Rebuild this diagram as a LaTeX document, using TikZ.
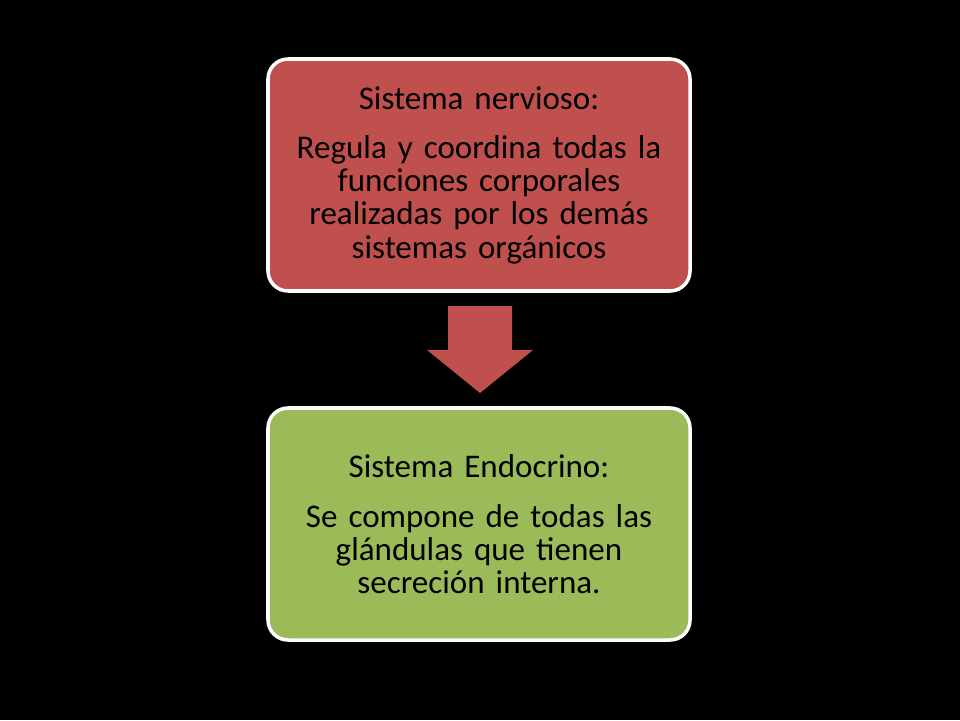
\documentclass[tikz,border=0pt]{standalone}
\usepackage{fontspec}
\setmainfont{Carlito}
\definecolor{boxred}{HTML}{C0504D}
\definecolor{boxgreen}{HTML}{9BBB59}
\tikzset{
  stagebox/.style={draw=white, line width=2.5pt, rounded corners=0.5cm, text=black,
    minimum width=10.55cm, minimum height=5.8cm, align=center, text width=10.2cm,
    font=\fontsize{23.5}{23.5}\selectfont}
}
\begin{document}
\begin{tikzpicture}
  \fill[black] (0,0) rectangle (24,18);
  \node[stagebox, fill=boxred] (nervioso) at (11.975,13.625)
    {Sistema nervioso:\\[12pt] Regula y coordina todas la\\ funciones corporales\\ realizadas por los demás\\ sistemas orgánicos};
  \node[stagebox, fill=boxgreen] (endocrino) at (11.975,4.9)
    {Sistema Endocrino:\\[12pt] Se compone de todas las\\ glándulas que tienen\\ secreción interna.};
  % flecha entre los dos sistemas
  \coordinate (tip) at (12,8.175);
  \fill[boxred] ([xshift=-0.8cm]tip |- 0,10.35) -- ++(1.6,0) -- ++(0,-1.1)
    -- ++(0.525,0) -- (tip) -- ++(-1.325,1.075) -- ++(0.525,0) -- cycle;
\end{tikzpicture}
\end{document}
